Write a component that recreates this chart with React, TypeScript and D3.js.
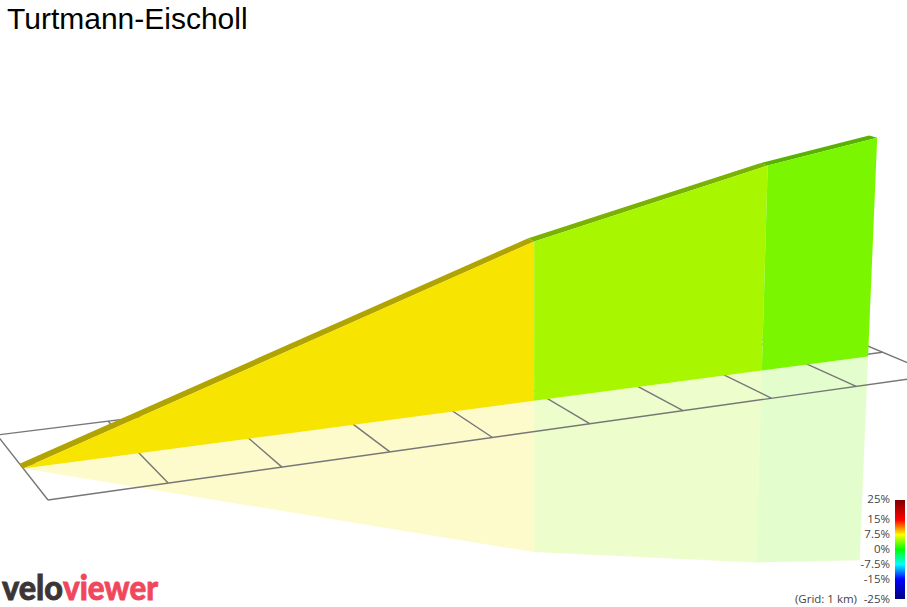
import * as d3 from "d3";

const W = 907;
const H = 607;

// climb profile
const distanceKm = [0, 4.85, 7.44, 8.76];
const elevationM = [620, 1011, 1150, 1201];
const segmentGrade = [8.1, 5.1, 3.7];

const gridKm = d3.range(0, 10);
const gridRows = [0, 1, 2];

const legendTicks = [25, 15, 7.5, 0, -7.5, -15, -25];
const legendStops = [-25, -15, -7.5, 0, 7.5, 15, 25];
const legendColors = ["#00007f", "#0000ff", "#00ffff", "#00ff00", "#ffff00", "#ff0000", "#7f0000"];

const gradeColor = d3.scaleLinear<string>().domain(legendStops).range(legendColors).interpolate(d3.interpolateRgb);
const legendY = d3.scaleLinear().domain([-25, 25]).range([599, 499]);
const heightPx = d3.scaleLinear().domain([620, 1201]).range([0, 272]);

// camera: ground plane homography from the grid's four corners (km 0/9, row 0/2)
const [x0, y0] = [48, 500];
const [x1, y1] = [937, 375];
const [x2, y2] = [832, 331];
const [x3, y3] = [-3, 435];
const dx1 = x1 - x2, dx2 = x3 - x2, dy1 = y1 - y2, dy2 = y3 - y2;
const sx = x0 - x1 + x2 - x3, sy = y0 - y1 + y2 - y3;
const den = dx1 * dy2 - dx2 * dy1;
const g = (sx * dy2 - dx2 * sy) / den;
const h = (dx1 * sy - sx * dy1) / den;

// vanishing point of the uprights, they lean very slightly
const VP: [number, number] = [533, 8400];
const HORIZ = 6000;

// the wall does not sit exactly on the middle grid row
const WALL_ROW = 0.92;
const RIBBON = 0.15;

function ground(km: number, row: number) {
  const s = km / 9, t = row / 2;
  const w = g * s + h * t + 1;
  const x = ((x1 - x0 + g * x1) * s + (x3 - x0 + h * x3) * t + x0) / w;
  const y = ((y1 - y0 + g * y1) * s + (y3 - y0 + h * y3) * t + y0) / w;
  return { x, y, w };
}

// signed height: positive goes up, negative is the mirror image under the ground
function project(km: number, row: number, rise: number): [number, number] {
  const p = ground(km, row);
  const off = rise / p.w;
  const amt = off / (1 - off / HORIZ);
  const len = Math.hypot(p.x - VP[0], p.y - VP[1]);
  return [p.x + ((p.x - VP[0]) / len) * amt, p.y + ((p.y - VP[1]) / len) * amt];
}

const poly = d3.line().curve(d3.curveLinearClosed);
const seg = d3.line();

function shade(c: string, k: number) {
  const q = d3.rgb(c);
  return d3.rgb(q.r * k, q.g * k, q.b * k).formatHex();
}

export default function App() {
  const segs = segmentGrade.map((grade, i) => {
    const a = distanceKm[i], b = distanceKm[i + 1];
    const ra = heightPx(elevationM[i]), rb = heightPx(elevationM[i + 1]);
    const color = shade(gradeColor(grade), 0.97);
    const r = WALL_ROW;
    return {
      color,
      top: shade(color, 0.72),
      wall: poly([project(a, r, 0), project(a, r, ra), project(b, r, rb), project(b, r, 0)]) ?? "",
      mirror: poly([project(a, r, 0), project(a, r, -ra), project(b, r, -rb), project(b, r, 0)]) ?? "",
      ribbon: poly([project(a, r, ra), project(b, r, rb), project(b, r + RIBBON, rb), project(a, r + RIBBON, ra)]) ?? "",
    };
  });

  return (
    <svg width={W} height={H} style={{ position: "absolute", left: 0, top: 0, background: "#fff" }}>
      <defs>
        <linearGradient id="ramp" x1="0" x2="0" y1="1" y2="0">
          {legendStops.map((v, i) => (
            <stop key={v} offset={`${((v + 25) / 50) * 100}%`} stopColor={legendColors[i]} />
          ))}
        </linearGradient>
      </defs>

      {/* mirror image */}
      {segs.map((s, i) => (
        <path key={i} d={s.mirror} fill={s.color} fillOpacity={0.2} />
      ))}

      {/* ground grid */}
      <g stroke="#777" strokeWidth={1.4} fill="none">
        {gridKm.map((km) => (
          <path key={km} d={seg([project(km, 0, 0), project(km, 2, 0)]) ?? ""} />
        ))}
        {gridRows.map((row) => (
          <path key={row} d={seg([project(0, row, 0), project(9, row, 0)]) ?? ""} />
        ))}
      </g>

      {/* wall and its top */}
      {segs.map((s, i) => (
        <path key={i} d={s.ribbon} fill={s.top} />
      ))}
      {segs.map((s, i) => (
        <path key={i} d={s.wall} fill={s.color} />
      ))}

      <text x={7} y={29} fontFamily="'Liberation Sans', Arial, sans-serif" fontSize={30} fill="#000">
        Turtmann-Eischoll
      </text>

      {/* grade legend */}
      <rect x={895} y={legendY(25) + 1} width={10} height={legendY(-25) - legendY(25) - 1} fill="url(#ramp)" />
      <g fontFamily="'Open Sans', sans-serif" fontSize={11.5} fill="#444" textAnchor="end">
        {legendTicks.map((t) => (
          <text key={t} x={890} y={legendY(t)} dy="0.36em">{`${t}%`}</text>
        ))}
        <text x={857} y={legendY(-25)} dy="0.36em">(Grid: 1 km)</text>
      </g>

      {/* logo */}
      <g fontFamily="Lato, sans-serif" fontWeight={900} fontSize={35} strokeWidth={0.8}>
        <text x={2} y={600} fill="#3b3635" stroke="#3b3635" textLength={61} lengthAdjust="spacingAndGlyphs">velo</text>
        <text x={63} y={600} fill="#f0475c" stroke="#f0475c" textLength={95} lengthAdjust="spacingAndGlyphs">viewer</text>
      </g>
    </svg>
  );
}
